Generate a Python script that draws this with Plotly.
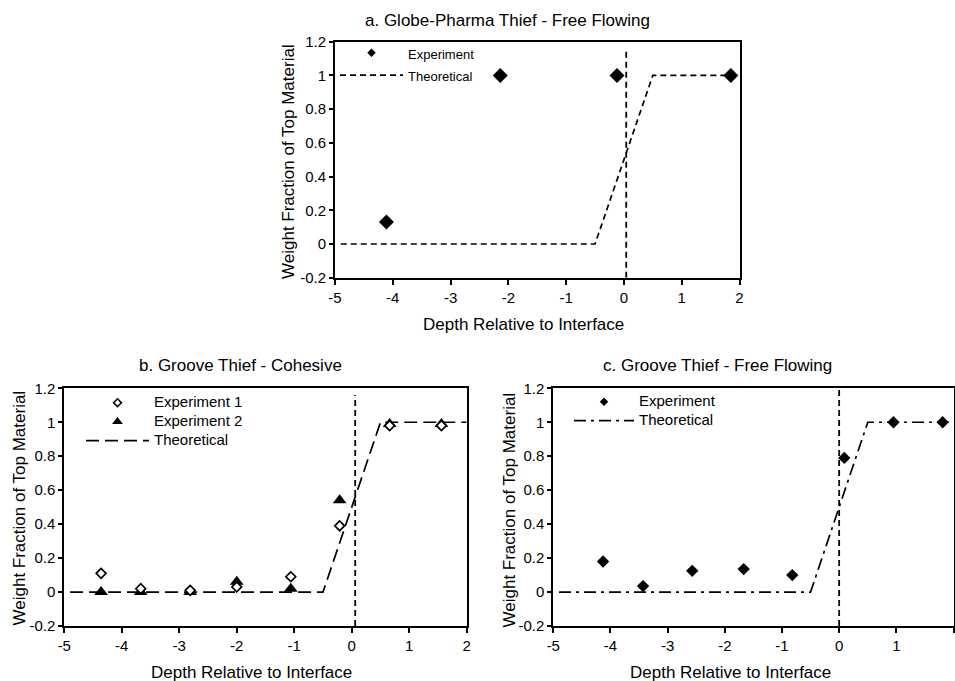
import plotly.graph_objects as go

W, H = 955, 681

# ---------------- data ----------------
# a. Globe-Pharma Thief - Free Flowing
a_exp_x = [-4.11, -2.14, -0.12, 1.85]
a_exp_y = [0.13, 1.0, 1.0, 1.0]
# b. Groove Thief - Cohesive
b_exp1_x = [-4.36, -3.67, -2.81, -2.0, -1.06, -0.21, 0.66, 1.56]
b_exp1_y = [0.11, 0.02, 0.01, 0.03, 0.09, 0.39, 0.98, 0.98]
b_exp2_x = [-4.36, -3.67, -2.81, -2.0, -1.06, -0.21, 0.66, 1.56]
b_exp2_y = [0.0, 0.0, 0.0, 0.06, 0.02, 0.54, 0.99, 0.99]
# c. Groove Thief - Free Flowing
c_exp_x = [-4.13, -3.43, -2.57, -1.67, -0.82, 0.09, 0.95, 1.81]
c_exp_y = [0.18, 0.035, 0.125, 0.135, 0.10, 0.79, 1.0, 1.0]
# theoretical profile (same for all panels)
theo_x = [-4.9, -0.5, 0.5, 2.0]
theo_y = [0.0, 0.0, 1.0, 1.0]
# interface marker lines
a_iface_x, a_iface_y = [0.04, 0.04], [-0.2, 1.16]
b_iface_x, b_iface_y = [0.06, 0.06], [-0.2, 1.16]
c_iface_x, c_iface_y = [0.0, 0.0], [-0.2, 1.2]

x_ticks = [-5, -4, -3, -2, -1, 0, 1, 2]
x_ticktext = ["-5", "-4", "-3", "-2", "-1", "0", "1", "2"]
y_ticks = [-0.2, 0, 0.2, 0.4, 0.6, 0.8, 1.0, 1.2]
y_ticktext = ["-0.2", "0", "0.2", "0.4", "0.6", "0.8", "1", "1.2"]

titles = ["a. Globe-Pharma Thief - Free Flowing", "b. Groove Thief - Cohesive",
          "c. Groove Thief - Free Flowing"]
x_title = "Depth Relative to Interface"
y_title = "Weight Fraction of Top Material"

FONT = "Liberation Sans, Arial, sans-serif"
BLACK = "#000000"

fig = go.Figure()


def px_x(p):
    return p / W


def px_y(p):
    return 1 - p / H


# ---------------- panel a ----------------
fig.add_trace(go.Scatter(x=theo_x, y=theo_y, mode="lines", xaxis="x", yaxis="y",
                         line=dict(color=BLACK, width=1.7, dash="6px,4px"), showlegend=False))
fig.add_trace(go.Scatter(x=a_iface_x, y=a_iface_y, mode="lines", xaxis="x", yaxis="y",
                         line=dict(color=BLACK, width=1.8, dash="6px,4px"), showlegend=False))
fig.add_trace(go.Scatter(x=a_exp_x, y=a_exp_y, mode="markers", xaxis="x", yaxis="y",
                         marker=dict(symbol="diamond", size=11.5, color=BLACK), showlegend=False))
# legend entries
fig.add_trace(go.Scatter(x=[None], y=[None], mode="markers", xaxis="x", yaxis="y",
                         name='<span style="font-size:13px">Experiment</span>', legend="legend",
                         marker=dict(symbol="diamond", size=6.5, color=BLACK)))
fig.add_trace(go.Scatter(x=[None], y=[None], mode="lines", xaxis="x", yaxis="y",
                         name='<span style="font-size:13px">Theoretical</span>', legend="legend",
                         line=dict(color=BLACK, width=1.7, dash="6px,4px")))

# ---------------- panel b ----------------
fig.add_trace(go.Scatter(x=theo_x, y=theo_y, mode="lines", xaxis="x2", yaxis="y2",
                         line=dict(color=BLACK, width=1.7, dash="13px,6px"), showlegend=False))
fig.add_trace(go.Scatter(x=b_iface_x, y=b_iface_y, mode="lines", xaxis="x2", yaxis="y2",
                         line=dict(color=BLACK, width=1.8, dash="6px,4px"), showlegend=False))
fig.add_trace(go.Scatter(x=b_exp2_x, y=b_exp2_y, mode="markers", xaxis="x2", yaxis="y2",
                         marker=dict(symbol="triangle-up", size=12, color=BLACK), showlegend=False))
fig.add_trace(go.Scatter(x=b_exp1_x, y=b_exp1_y, mode="markers", xaxis="x2", yaxis="y2",
                         marker=dict(symbol="diamond", size=7.5, color="white",
                                     line=dict(color=BLACK, width=1.7)), showlegend=False))
fig.add_trace(go.Scatter(x=[None], y=[None], mode="markers", xaxis="x2", yaxis="y2",
                         name='<span style="font-size:15px">Experiment 1</span>', legend="legend2",
                         marker=dict(symbol="diamond", size=6, color="white",
                                     line=dict(color=BLACK, width=1.6))))
fig.add_trace(go.Scatter(x=[None], y=[None], mode="markers", xaxis="x2", yaxis="y2",
                         name='<span style="font-size:15px">Experiment 2</span>', legend="legend2",
                         marker=dict(symbol="triangle-up", size=9.5, color=BLACK)))
fig.add_trace(go.Scatter(x=[None], y=[None], mode="lines", xaxis="x2", yaxis="y2",
                         name='<span style="font-size:15px">Theoretical</span>', legend="legend2",
                         line=dict(color=BLACK, width=1.7, dash="13px,6px")))

# ---------------- panel c ----------------
fig.add_trace(go.Scatter(x=theo_x, y=theo_y, mode="lines", xaxis="x3", yaxis="y3",
                         line=dict(color=BLACK, width=1.7, dash="12px,5px,3px,5px"), showlegend=False))
fig.add_trace(go.Scatter(x=c_iface_x, y=c_iface_y, mode="lines", xaxis="x3", yaxis="y3",
                         line=dict(color=BLACK, width=1.8, dash="6px,4px"), showlegend=False))
fig.add_trace(go.Scatter(x=c_exp_x, y=c_exp_y, mode="markers", xaxis="x3", yaxis="y3",
                         marker=dict(symbol="diamond", size=9.5, color=BLACK), showlegend=False))
fig.add_trace(go.Scatter(x=[None], y=[None], mode="markers", xaxis="x3", yaxis="y3",
                         name='<span style="font-size:15px">Experiment</span>', legend="legend3",
                         marker=dict(symbol="diamond", size=6.5, color=BLACK)))
fig.add_trace(go.Scatter(x=[None], y=[None], mode="lines", xaxis="x3", yaxis="y3",
                         name='<span style="font-size:15px">Theoretical</span>', legend="legend3",
                         line=dict(color=BLACK, width=1.7, dash="12px,5px,3px,5px")))


def xaxis(domain, anchor):
    return dict(domain=domain, anchor=anchor, range=[-5, 2], tickmode="array",
                tickvals=x_ticks, ticktext=x_ticktext, showgrid=False, zeroline=False,
                showline=True, linecolor=BLACK, linewidth=2, mirror=True,
                ticks="outside", ticklen=5, tickwidth=1.5, tickcolor=BLACK, automargin=False,
                tickfont=dict(family=FONT, size=15, color=BLACK))


def yaxis(domain, anchor):
    return dict(domain=domain, anchor=anchor, range=[-0.2, 1.2], tickmode="array",
                tickvals=y_ticks, ticktext=y_ticktext, showgrid=False, zeroline=False,
                showline=True, linecolor=BLACK, linewidth=2, mirror=True,
                ticks="outside", ticklen=4, tickwidth=1.5, tickcolor=BLACK, automargin=False,
                tickfont=dict(family=FONT, size=15, color=BLACK))


ya_dom = [px_y(277.7), px_y(41.7)]
yb_dom = [px_y(626), px_y(388.3)]

annotations = []


def add_text(text, x, y, size, angle=0):
    annotations.append(dict(text=text, x=px_x(x), y=px_y(y), xref="paper", yref="paper",
                            xanchor="center", yanchor="middle", showarrow=False,
                            textangle=angle, font=dict(family=FONT, size=size, color=BLACK)))


add_text(titles[0], 507, 20, 17)
add_text(x_title, 523, 325, 17)
add_text(y_title, 289, 162, 17, -90)
add_text(titles[1], 240, 366, 17)
add_text(x_title, 251, 672, 17)
add_text(y_title, 18.5, 508, 17, -90)
add_text(titles[2], 717, 366, 17)
add_text(x_title, 730, 672, 17)
add_text(y_title, 508.5, 510, 17, -90)


def legend(x, y, fsize, iw):
    return dict(x=px_x(x), y=px_y(y), xanchor="left", yanchor="top", xref="paper", yref="paper",
                bgcolor="rgba(0,0,0,0)", borderwidth=0, itemwidth=iw,
                font=dict(family=FONT, size=fsize, color=BLACK), tracegroupgap=0)


fig.update_layout(
    width=W, height=H, autosize=False,
    margin=dict(l=0, r=0, t=0, b=0, pad=0, autoexpand=False),
    paper_bgcolor="white", plot_bgcolor="white",
    xaxis=xaxis([px_x(335), px_x(739.5)], "y"),
    yaxis=yaxis(ya_dom, "x"),
    xaxis2=xaxis([px_x(64.3), px_x(466.7)], "y2"),
    yaxis2=yaxis(yb_dom, "x2"),
    xaxis3=xaxis([px_x(553.3), px_x(953.5)], "y3"),
    yaxis3=yaxis(yb_dom, "x3"),
    legend=legend(335, 36.4, 15, 63),
    legend2=legend(81, 388.2, 12, 63),
    legend3=legend(569, 387.2, 12, 60),
    annotations=annotations,
)

post = ("document.body.style.margin='0';document.body.style.padding='0';"
        "document.body.style.overflow='hidden';"
        "document.documentElement.style.overflow='hidden';")
fig.write_html("out.html", config={"responsive": False, "displayModeBar": False},
               post_script=post)
